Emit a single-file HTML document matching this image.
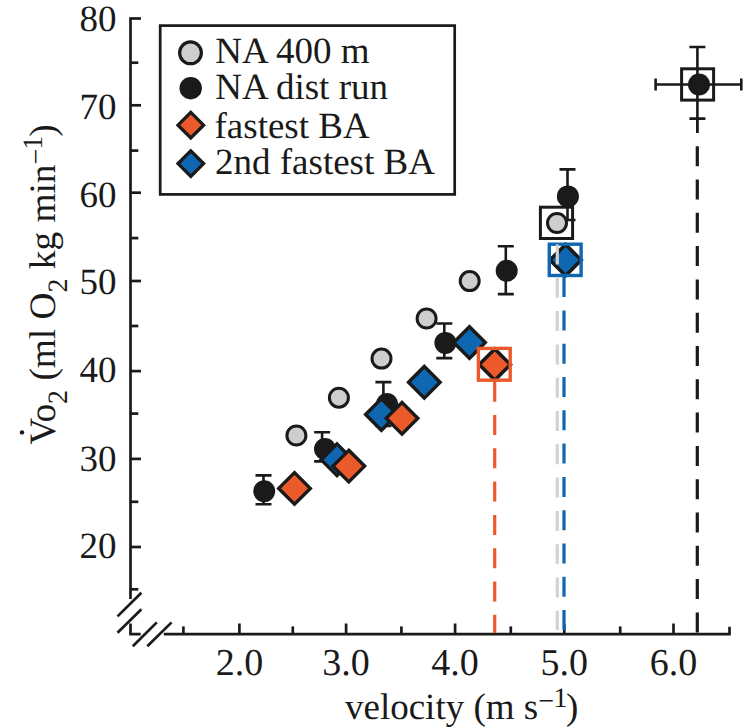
<!DOCTYPE html>
<html><head><meta charset="utf-8"><style>
html,body{margin:0;padding:0;background:#fff;}
svg{display:block;} text{text-rendering:geometricPrecision;}
</style></head><body>
<svg width="743" height="727" viewBox="0 0 743 727">
<rect width="743" height="727" fill="#fff"/>
<g stroke="#1a1a1a" stroke-width="2.7" fill="none" stroke-linecap="butt">
<path d="M130.5 17.2 V599"/>
<path d="M130.5 623.6 V634.2 H140.7"/>
<path d="M130.5 18.5 H141"/>
<path d="M130.5 105.3 H141"/>
<path d="M130.5 192.7 H141"/>
<path d="M130.5 281.0 H141"/>
<path d="M130.5 371.1 H141"/>
<path d="M130.5 458.9 H141"/>
<path d="M130.5 547.0 H141"/>
<path d="M130.5 62.7 H138.3"/>
<path d="M130.5 150.6 H138.3"/>
<path d="M130.5 238.1 H138.3"/>
<path d="M130.5 326.0 H138.3"/>
<path d="M130.5 413.6 H138.3"/>
<path d="M130.5 501.8 H138.3"/>
<path d="M130.5 589.3 H138.3"/>
<path d="M117.5 616.4 L141.4 592.8"/>
<path d="M117.5 632.8 L141.4 609.2"/>
<path d="M132.8 646.3 L156.8 622.4"/>
<path d="M147.3 646.3 L171.6 622.4"/>
<path d="M163.8 634.1 H729.5 V626.8"/>
<path d="M239.4 634.1 V623.5"/>
<path d="M346.1 634.1 V623.5"/>
<path d="M455.1 634.1 V623.5"/>
<path d="M564.3 634.1 V623.5"/>
<path d="M673.5 634.1 V623.5"/>
<path d="M183.4 634.1 V626.4"/>
<path d="M292.8 634.1 V626.4"/>
<path d="M401.4 634.1 V626.4"/>
<path d="M510.8 634.1 V626.4"/>
<path d="M620.2 634.1 V626.4"/>
</g>
<g font-family="Liberation Serif, serif" font-size="37" fill="#1a1a1a">
<text x="116.5" y="31.1" text-anchor="end">80</text>
<text x="116.5" y="118.7" text-anchor="end">70</text>
<text x="116.5" y="206.8" text-anchor="end">60</text>
<text x="116.5" y="293.7" text-anchor="end">50</text>
<text x="116.5" y="382.3" text-anchor="end">40</text>
<text x="116.5" y="471.2" text-anchor="end">30</text>
<text x="116.5" y="558.1" text-anchor="end">20</text>
<text x="239.4" y="674.8" text-anchor="middle" font-size="38">2.0</text>
<text x="346.1" y="674.8" text-anchor="middle" font-size="38">3.0</text>
<text x="455.1" y="674.8" text-anchor="middle" font-size="38">4.0</text>
<text x="564.3" y="674.8" text-anchor="middle" font-size="38">5.0</text>
<text x="673.5" y="674.8" text-anchor="middle" font-size="38">6.0</text>
</g>
<text font-family="Liberation Serif, serif" font-size="37" fill="#1a1a1a" x="345" y="719.2">velocity (m s<tspan font-size="28" dy="-9.5">−</tspan><tspan font-size="28" dy="-2.9" dx="-0.5">1</tspan><tspan dy="12.4" dx="-1.5">)</tspan></text>
<g transform="translate(55,444.7) rotate(-90)"><text font-family="Liberation Serif, serif" font-size="37.3" fill="#1a1a1a" x="0" y="0">Vo<tspan font-size="28" dy="11.8">2</tspan><tspan dy="-11.8"> (ml O</tspan><tspan font-size="28" dy="11.8">2</tspan><tspan dy="-11.8"> kg min</tspan><tspan font-size="28" dy="-10.4">−</tspan><tspan font-size="28" dy="-2.9" dx="-1">1</tspan><tspan dy="13.3" dx="-1">)</tspan></text><circle cx="12.3" cy="-33" r="2.2" fill="#1a1a1a"/></g>
<rect x="160.2" y="25.6" width="294.5" height="168.8" fill="none" stroke="#1a1a1a" stroke-width="2.7"/>
<circle cx="190.5" cy="52.8" r="10.9" fill="#cecece" stroke="#1a1a1a" stroke-width="3.2"/>
<circle cx="190.7" cy="88.2" r="11.2" fill="#1a1a1a"/>
<path d="M190.8 112.4 L203.6 125.2 L190.8 138.0 L178.0 125.2 Z" fill="#ec5a2c" stroke="#1a1a1a" stroke-width="3.3" stroke-linejoin="miter"/>
<path d="M190.8 150.8 L203.6 163.6 L190.8 176.4 L178.0 163.6 Z" fill="#0e67b0" stroke="#1a1a1a" stroke-width="3.3" stroke-linejoin="miter"/>
<g font-family="Liberation Serif, serif" font-size="37" fill="#1a1a1a">
<text x="215.3" y="63.4">NA 400 m</text>
<text x="215.3" y="98.9">NA dist run</text>
<text x="214.5" y="137.6">fastest BA</text>
<text x="215" y="174.2">2nd fastest BA</text>
</g>
<g stroke="#1a1a1a" stroke-width="2.6" fill="none">
<path d="M263.5 475.4 V504.2 M255.5 475.4 H271.5 M255.5 504.2 H271.5"/>
<path d="M322.1 432.3 V461.4 M314.1 432.3 H330.1 M314.1 461.4 H330.1"/>
<path d="M383.4 382.1 V426 M375.4 382.1 H391.4 M375.4 426 H391.4"/>
<path d="M444.3 323.5 V358.1 M436.3 323.5 H452.3 M436.3 358.1 H452.3"/>
<path d="M505.8 246.2 V294.1 M497.8 246.2 H513.8 M497.8 294.1 H513.8"/>
<path d="M567.5 169.35 V220 M559.5 169.35 H575.5 M559.5 220 H575.5"/>
<path d="M697.4 47 V118.6 M689.4 47 H705.4 M689.4 118.6 H705.4"/>
<path d="M655.6 84.5 H741.3 M655.6 78.5 V90.5 M741.3 78.5 V90.5"/>
</g>
<circle cx="264.2" cy="491.2" r="11" fill="#1a1a1a"/>
<circle cx="325" cy="449" r="11" fill="#1a1a1a"/>
<circle cx="387" cy="404" r="11" fill="#1a1a1a"/>
<circle cx="445.4" cy="342.9" r="11" fill="#1a1a1a"/>
<circle cx="506.7" cy="270.7" r="11" fill="#1a1a1a"/>
<circle cx="567.9" cy="196.4" r="11" fill="#1a1a1a"/>
<circle cx="699" cy="84.5" r="11" fill="#1a1a1a"/>
<circle cx="296.4" cy="435.5" r="9.5" fill="#cecece" stroke="#1a1a1a" stroke-width="3"/>
<circle cx="338.9" cy="397.7" r="9.5" fill="#cecece" stroke="#1a1a1a" stroke-width="3"/>
<circle cx="381.5" cy="358.6" r="9.5" fill="#cecece" stroke="#1a1a1a" stroke-width="3"/>
<circle cx="426.6" cy="318.5" r="9.5" fill="#cecece" stroke="#1a1a1a" stroke-width="3"/>
<circle cx="469.7" cy="281.1" r="9.5" fill="#cecece" stroke="#1a1a1a" stroke-width="3"/>
<circle cx="557" cy="223" r="9.5" fill="#cecece" stroke="#1a1a1a" stroke-width="3"/>
<path d="M337 443.9 L352.8 459.7 L337 475.5 L321.2 459.7 Z" fill="#0e67b0" stroke="#1a1a1a" stroke-width="3.4" stroke-linejoin="miter"/>
<path d="M381.4 398.7 L397.2 414.5 L381.4 430.3 L365.6 414.5 Z" fill="#0e67b0" stroke="#1a1a1a" stroke-width="3.4" stroke-linejoin="miter"/>
<path d="M424.3 366.5 L440.1 382.3 L424.3 398.1 L408.5 382.3 Z" fill="#0e67b0" stroke="#1a1a1a" stroke-width="3.4" stroke-linejoin="miter"/>
<path d="M469.5 326.7 L485.3 342.5 L469.5 358.3 L453.7 342.5 Z" fill="#0e67b0" stroke="#1a1a1a" stroke-width="3.4" stroke-linejoin="miter"/>
<path d="M294.5 472.6 L310.3 488.4 L294.5 504.2 L278.7 488.4 Z" fill="#ec5a2c" stroke="#1a1a1a" stroke-width="3.4" stroke-linejoin="miter"/>
<path d="M348.8 450.3 L364.6 466.1 L348.8 481.9 L333.0 466.1 Z" fill="#ec5a2c" stroke="#1a1a1a" stroke-width="3.4" stroke-linejoin="miter"/>
<path d="M402 402.5 L417.8 418.3 L402 434.1 L386.2 418.3 Z" fill="#ec5a2c" stroke="#1a1a1a" stroke-width="3.4" stroke-linejoin="miter"/>
<path d="M565.6 244.5 L581.2 260.1 L565.6 275.7 L550.0 260.1 Z" fill="#0e67b0" stroke="#1a1a1a" stroke-width="3.6" stroke-linejoin="miter"/>
<path d="M494.8 349.0 L510.4 364.6 L494.8 380.2 L479.2 364.6 Z" fill="#ec5a2c" stroke="#1a1a1a" stroke-width="3.6" stroke-linejoin="miter"/>
<rect x="478.4" y="348.4" width="31.8" height="31.8" fill="none" stroke="#ec5a2c" stroke-width="3.4"/>
<rect x="549.3" y="244.2" width="31.8" height="31.3" fill="none" stroke="#0e67b0" stroke-width="3.4"/>
<rect x="540.4" y="207.2" width="32.2" height="31.3" fill="none" stroke="#1a1a1a" stroke-width="3"/>
<rect x="681.6" y="68.8" width="32" height="31.3" fill="none" stroke="#1a1a1a" stroke-width="3"/>
<path d="M494.7 381.7 V633" stroke="#ec5a2c" stroke-width="3.2" stroke-dasharray="20 13.3" stroke-dashoffset="0" fill="none"/>
<path d="M564.0 277.1 V633" stroke="#0e67b0" stroke-width="3.2" stroke-dasharray="20 13.3" stroke-dashoffset="0" fill="none"/>
<path d="M557.3 244.5 V630" stroke="#d2d2d2" stroke-width="3.2" stroke-dasharray="20 13.3" stroke-dashoffset="0" fill="none"/>
<path d="M697.4 118.6 V133" stroke="#1a1a1a" stroke-width="2.8"/>
<path d="M697.3 146.2 V633" stroke="#1a1a1a" stroke-width="3.2" stroke-dasharray="20 13.3" stroke-dashoffset="0" fill="none"/>
</svg>
</body></html>
